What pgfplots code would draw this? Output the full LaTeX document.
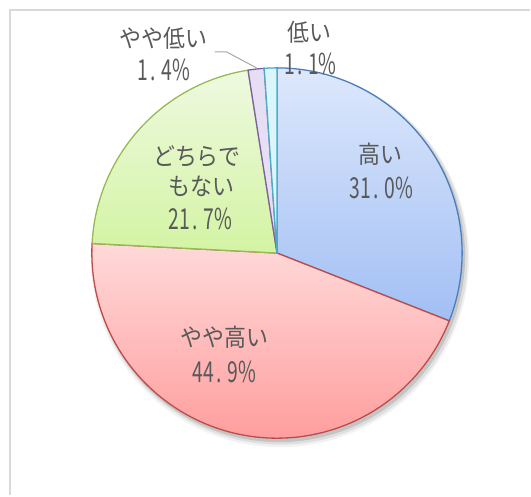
\documentclass[border=0pt]{standalone}
\usepackage{pgfplots}
\pgfplotsset{compat=1.18}
\usepackage{fontspec}
\newfontfamily\jp[FakeStretch=0.9]{Noto Sans CJK JP}
\newfontfamily\jpn[FakeStretch=0.67]{Noto Sans CJK JP}
\definecolor{txt}{HTML}{595959}
\definecolor{bA}{HTML}{4A7EBB}
\definecolor{bB}{HTML}{BE4B48}
\definecolor{bC}{HTML}{98B954}
\definecolor{bD}{HTML}{7D60A0}
\definecolor{bE}{HTML}{4BACC6}
\definecolor{tA}{HTML}{DDE8FC}
\definecolor{uA}{HTML}{A2BFF4}
\definecolor{tB}{HTML}{FFD9D9}
\definecolor{uB}{HTML}{FF9E9E}
\definecolor{tC}{HTML}{EEF9E0}
\definecolor{uC}{HTML}{D3F4A3}
\definecolor{fD}{HTML}{E6DEF5}
\definecolor{fE}{HTML}{DAF6FB}
\tikzset{lbl/.style={font=\jp\fontsize{24.5}{31}\selectfont, text=txt, inner sep=0pt},
         num/.style={font=\jpn\fontsize{29}{31}\selectfont, text=txt, inner sep=0pt}}
\newcommand\pc[2]{#1\kern2.5bp.\kern5.5bp#2\%}
% data (percent)
\def\vA{31.0}% 高い
\def\vB{44.9}% やや高い
\def\vC{21.7}% どちらでもない
\def\vD{1.4}%  やや低い
\def\vE{1.1}%  低い
\pgfmathsetmacro\tot{\vA+\vB+\vC+\vD+\vE}
\pgfmathsetmacro\aB{\vA/\tot*360}
\pgfmathsetmacro\aC{(\vA+\vB)/\tot*360}
\pgfmathsetmacro\aD{(\vA+\vB+\vC)/\tot*360}
\pgfmathsetmacro\aE{(\vA+\vB+\vC+\vD)/\tot*360}
\def\cx{277.5}
\def\cy{253.5}
\def\R{185.5}
\begin{document}
\begin{tikzpicture}
\begin{axis}[scale only axis, width=531bp, height=496bp,
  xmin=0, xmax=531, ymin=0, ymax=496, y dir=reverse,
  hide axis, clip=false]
\addplot[draw=none] coordinates {(0,0) (531,496)};
% frame
\addplot[draw=black!15, line width=2pt] coordinates {(10,496) (10,10) (531,10)};
% shadow
\addplot[fill=black, opacity=0.05, draw=none, domain=0:360, samples=120, variable=\t] ({\cx+3+(\R+4)*sin(\t)},{\cy+5-(\R+4)*cos(\t)}) -- cycle;
\addplot[fill=black, opacity=0.08, draw=none, domain=0:360, samples=120, variable=\t] ({\cx+3+(\R+2.5)*sin(\t)},{\cy+4-(\R+2.5)*cos(\t)}) -- cycle;
\addplot[fill=black, opacity=0.12, draw=none, domain=0:360, samples=120, variable=\t] ({\cx+2+(\R+1)*sin(\t)},{\cy+3-(\R+1)*cos(\t)}) -- cycle;
% slices
\addplot[draw=bA, line width=1.3pt, top color=tA, bottom color=uA, domain=0:\aB, samples=80, variable=\t]
  ({\cx+\R*sin(\t)},{\cy-\R*cos(\t)}) -- (axis cs:\cx,\cy) -- cycle;
\addplot[draw=bB, line width=1.3pt, top color=tB, bottom color=uB, domain=\aB:\aC, samples=100, variable=\t]
  ({\cx+\R*sin(\t)},{\cy-\R*cos(\t)}) -- (axis cs:\cx,\cy) -- cycle;
\addplot[draw=bC, line width=1.3pt, top color=tC, bottom color=uC, domain=\aC:\aD, samples=60, variable=\t]
  ({\cx+\R*sin(\t)},{\cy-\R*cos(\t)}) -- (axis cs:\cx,\cy) -- cycle;
\addplot[draw=bD, line width=1.3pt, fill=fD, domain=\aD:\aE, samples=10, variable=\t]
  ({\cx+\R*sin(\t)},{\cy-\R*cos(\t)}) -- (axis cs:\cx,\cy) -- cycle;
\addplot[draw=bE, line width=1.3pt, fill=fE, domain=\aE:360, samples=10, variable=\t]
  ({\cx+\R*sin(\t)},{\cy-\R*cos(\t)}) -- (axis cs:\cx,\cy) -- cycle;
% leader line
\addplot[draw=black!35, line width=1pt] coordinates {(215,52) (227,52) (257,68)};
% labels
\node[lbl] at (axis cs:381,155) {高い};
\node[num] at (axis cs:382,188) {\pc{31}{0}};
\node[lbl] at (axis cs:225,338) {やや高い};
\node[num] at (axis cs:225,373) {\pc{44}{9}};
\node[lbl] at (axis cs:197,157) {どちらで};
\node[lbl] at (axis cs:202,187) {もない};
\node[num] at (axis cs:201,219) {\pc{21}{7}};
\node[lbl] at (axis cs:164,38) {やや低い};
\node[num] at (axis cs:164,70) {\pc{1}{4}};
\node[lbl] at (axis cs:310,32) {低い};
\node[num] at (axis cs:311,64) {\pc{1}{1}};
\end{axis}
\end{tikzpicture}
\end{document}
